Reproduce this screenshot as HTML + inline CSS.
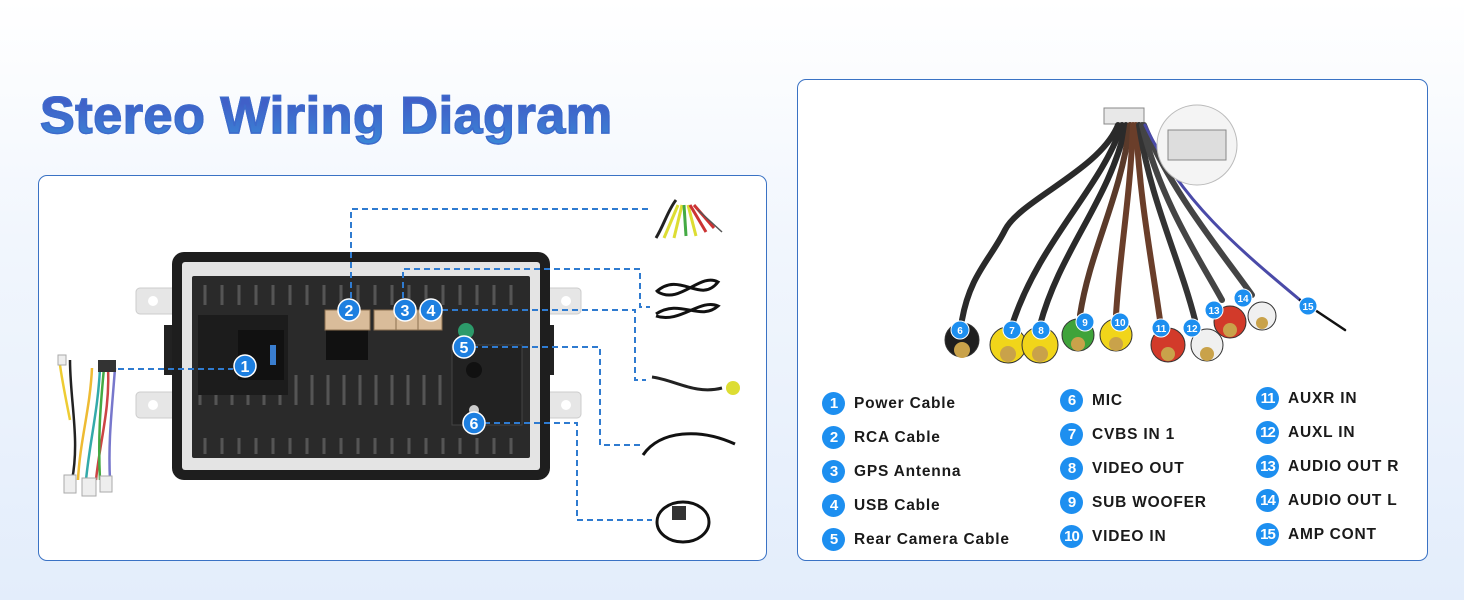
<!DOCTYPE html>
<html><head><meta charset="utf-8"><style>
html,body{margin:0;padding:0}
body{width:1464px;height:600px;overflow:hidden;position:relative;background:linear-gradient(180deg,#ffffff 0%,#f1f6fd 40%,#e3edfb 100%);font-family:"Liberation Sans",sans-serif}
.title{position:absolute;left:40px;top:86px;font-size:52px;font-weight:bold;letter-spacing:0.6px;color:#3d6fd2;background:linear-gradient(180deg,#4060c8 30%,#3a8ad8 100%);-webkit-background-clip:text;background-clip:text;-webkit-text-fill-color:transparent;-webkit-text-stroke:1.4px #3d6acb}
.panel{position:absolute;background:#fff;border:1.5px solid #3a72c4;border-radius:9px;box-sizing:border-box}
.lg{position:absolute;font-size:15.5px;font-weight:bold;color:#1a1a1a;letter-spacing:0.8px;white-space:nowrap;display:flex;align-items:center}
.lg b{display:inline-block;width:23px;height:23px;border-radius:50%;background:#1d8ff0;color:#fff;font-size:15px;text-align:center;line-height:23px;margin-right:9px;letter-spacing:-1px}
svg{position:absolute;left:0;top:0}
</style></head><body>
<div class="title">Stereo Wiring Diagram</div>
<div class="panel" style="left:38px;top:175px;width:729px;height:386px"></div>
<div class="panel" style="left:797px;top:79px;width:631px;height:482px"></div>

<svg width="1464" height="600" viewBox="0 0 1464 600">
 <g fill="#e6e6e6" stroke="#ccc">
  <rect x="136" y="288" width="45" height="26" rx="4"/><rect x="136" y="392" width="45" height="26" rx="4"/>
  <rect x="536" y="288" width="45" height="26" rx="4"/><rect x="536" y="392" width="45" height="26" rx="4"/>
 </g>
 <g fill="#fff"><circle cx="153" cy="301" r="5"/><circle cx="153" cy="405" r="5"/><circle cx="566" cy="301" r="5"/><circle cx="566" cy="405" r="5"/></g>
 <rect x="164" y="325" width="18" height="50" fill="#222"/><rect x="536" y="325" width="18" height="50" fill="#222"/>
 <rect x="172" y="252" width="378" height="228" rx="12" fill="#1e1e1e"/>
 <rect x="182" y="262" width="358" height="208" rx="3" fill="#e4e4e4"/>
 <rect x="192" y="276" width="338" height="182" rx="2" fill="#2a2a2a"/>
 <g stroke="#555" stroke-width="3">
  <path d="M205 285v20M222 285v20M239 285v20M256 285v20M273 285v20M290 285v20M307 285v20M324 285v20M341 285v20M358 285v20M375 285v20M392 285v20M409 285v20M426 285v20M443 285v20M460 285v20M477 285v20M494 285v20M511 285v20"/>
  <path d="M205 438v16M222 438v16M239 438v16M256 438v16M273 438v16M290 438v16M307 438v16M324 438v16M341 438v16M358 438v16M375 438v16M392 438v16M409 438v16M426 438v16M443 438v16M460 438v16M477 438v16M494 438v16M511 438v16"/>
  <path d="M200 375v30M216 375v30M232 375v30M248 375v30M264 375v30M280 375v30M296 375v30M312 375v30M328 375v30M344 375v30M360 375v30M376 375v30M392 375v30M408 375v30M424 375v30M440 375v30"/>
 </g>
 <rect x="198" y="315" width="90" height="80" fill="#1c1c1c"/>
 <rect x="238" y="330" width="46" height="50" fill="#111"/>
 <rect x="270" y="345" width="6" height="20" fill="#3a7ed0"/>
 <rect x="326" y="326" width="42" height="34" fill="#111"/>
 <rect x="452" y="345" width="70" height="80" fill="#222" stroke="#444"/>
 <g fill="#d9bc9a" stroke="#8a6f50"><rect x="325" y="310" width="45" height="20"/><rect x="374" y="310" width="22" height="20"/><rect x="396" y="310" width="22" height="20"/><rect x="418" y="310" width="24" height="20"/></g>
 <circle cx="466" cy="331" r="8" fill="#2c9a6a"/><circle cx="474" cy="370" r="8" fill="#111"/><circle cx="474" cy="410" r="5" fill="#ccc"/>
 <g stroke="#2f7bd0" stroke-width="2" stroke-dasharray="6,4" fill="none">
  <path d="M351 298V209H650"/>
  <path d="M403 298V269H640V307H650"/>
  <path d="M442 310H635V380H646"/>
  <path d="M472 347H600V445H640"/>
  <path d="M474 423H577V520H652"/>
  <path d="M118 369H233"/>
 </g>
 <g fill="#1d7fe0" stroke="#fff" stroke-width="1.5"><circle cx="245" cy="366" r="11"/><circle cx="349" cy="310" r="11"/><circle cx="405" cy="310" r="11"/><circle cx="431" cy="310" r="11"/><circle cx="464" cy="347" r="11"/><circle cx="474" cy="423" r="11"/></g>
 <g fill="#fff" font-family="Liberation Sans" font-weight="bold" font-size="16" text-anchor="middle"><text x="245" y="372">1</text><text x="349" y="316">2</text><text x="405" y="316">3</text><text x="431" y="316">4</text><text x="464" y="353">5</text><text x="474" y="429">6</text></g>
 <g stroke-width="2.5" fill="none">
  <path d="M70 360C70 400 80 440 72 480" stroke="#222"/><path d="M100 368C98 410 90 440 86 480" stroke="#3aa"/>
  <path d="M108 368C110 410 100 440 96 480" stroke="#c44"/><path d="M115 368C112 410 108 440 110 480" stroke="#77c"/>
  <path d="M92 368C90 410 80 440 78 480" stroke="#eb3"/><path d="M104 368C100 410 98 440 100 480" stroke="#4a4"/>
  <path d="M60 365C62 380 66 400 70 420" stroke="#ec3"/>
 </g>
 <rect x="98" y="360" width="18" height="12" fill="#333"/>
 <g fill="#eee" stroke="#aaa"><rect x="64" y="475" width="12" height="18"/><rect x="82" y="478" width="14" height="18"/><rect x="100" y="476" width="12" height="16"/><rect x="58" y="355" width="8" height="10"/></g>
 <g fill="none" stroke-width="3">
  <path d="M656 238C664 225 668 210 676 200" stroke="#222"/>
  <path d="M664 238L678 205" stroke="#dd3"/><path d="M674 238L682 205" stroke="#dd3"/>
  <path d="M686 236L684 205" stroke="#4a4"/><path d="M696 236L688 205" stroke="#dd3"/>
  <path d="M706 232L690 205" stroke="#c33"/><path d="M714 228L694 205" stroke="#c33"/>
  <path d="M722 232L698 210" stroke="#555" stroke-width="1.5"/>
  <path d="M656 292C680 270 700 305 718 282C700 272 680 305 658 292" stroke="#111"/>
  <path d="M656 314C680 298 700 322 718 306C700 298 680 324 656 316" stroke="#111"/>
  <path d="M652 377C675 380 695 395 722 388" stroke="#222"/>
  <path d="M643 455C660 430 700 428 735 444" stroke="#111"/>
  <ellipse cx="683" cy="522" rx="26" ry="20" stroke="#111"/>
 </g>
 <g fill="#dd3"><circle cx="733" cy="388" r="7"/></g>
 <rect x="672" y="506" width="14" height="14" fill="#333"/>
 <rect x="1104" y="108" width="40" height="16" fill="#e8e8e8" stroke="#888"/>
 <g fill="none" stroke-width="6" stroke-linecap="round">
  <path d="M1118 125C1100 170 1020 200 1005 230C990 260 970 275 962 320" stroke="#2a2a2a"/>
  <path d="M1122 125C1100 190 1040 240 1012 325" stroke="#2a2a2a"/>
  <path d="M1126 125C1110 200 1060 250 1040 325" stroke="#2a2a2a"/>
  <path d="M1130 125C1120 200 1090 250 1080 315" stroke="#5a3a2a"/>
  <path d="M1133 125C1130 200 1120 250 1116 315" stroke="#6a3e2a"/>
  <path d="M1136 125C1140 200 1150 250 1160 320" stroke="#6a3e2a"/>
  <path d="M1139 125C1150 200 1180 260 1195 320" stroke="#333"/>
  <path d="M1142 125C1160 200 1200 260 1222 300" stroke="#444"/>
  <path d="M1144 125C1170 190 1220 250 1252 295" stroke="#444"/>
  <path d="M1145 125C1180 200 1240 250 1300 300" stroke="#4a4aa8" stroke-width="3"/>
  <path d="M1300 300L1345 330" stroke="#111" stroke-width="2.5"/>
 </g>
 <circle cx="1197" cy="145" r="40" fill="#f4f4f4" stroke="#bbb"/>
 <rect x="1168" y="130" width="58" height="30" fill="#ddd" stroke="#888"/>
 <g stroke="#333" stroke-width="1">
  <circle cx="962" cy="340" r="17" fill="#1e1e1e"/><circle cx="1008" cy="345" r="18" fill="#f1d51a"/><circle cx="1040" cy="345" r="18" fill="#f1d51a"/>
  <circle cx="1078" cy="335" r="16" fill="#3fa33a"/><circle cx="1116" cy="335" r="16" fill="#f1d51a"/><circle cx="1168" cy="345" r="17" fill="#d23a2a"/>
  <circle cx="1207" cy="345" r="16" fill="#f0f0f0"/><circle cx="1230" cy="322" r="16" fill="#d23a2a"/><circle cx="1262" cy="316" r="14" fill="#f0f0f0"/>
 </g>
 <g fill="#c9a24a"><circle cx="962" cy="350" r="8"/><circle cx="1008" cy="354" r="8"/><circle cx="1040" cy="354" r="8"/><circle cx="1078" cy="344" r="7"/><circle cx="1116" cy="344" r="7"/><circle cx="1168" cy="354" r="7"/><circle cx="1207" cy="354" r="7"/><circle cx="1230" cy="330" r="7"/><circle cx="1262" cy="323" r="6"/></g>
 <g fill="#1d8ff0" stroke="#fff"><circle cx="960" cy="330" r="9"/><circle cx="1012" cy="330" r="9"/><circle cx="1041" cy="330" r="9"/><circle cx="1085" cy="322" r="9"/><circle cx="1120" cy="322" r="9"/><circle cx="1161" cy="328" r="9"/><circle cx="1192" cy="328" r="9"/><circle cx="1214" cy="310" r="9"/><circle cx="1243" cy="298" r="9"/><circle cx="1308" cy="306" r="9"/></g>
 <g fill="#fff" font-family="Liberation Sans" font-weight="bold" font-size="10" text-anchor="middle"><text x="960" y="334">6</text><text x="1012" y="334">7</text><text x="1041" y="334">8</text><text x="1085" y="326">9</text><text x="1120" y="326">10</text><text x="1161" y="332">11</text><text x="1192" y="332">12</text><text x="1214" y="314">13</text><text x="1243" y="302">14</text><text x="1308" y="310">15</text></g>
</svg>

<div class="lg" style="left:822px;top:392px"><b>1</b>Power Cable</div>
<div class="lg" style="left:822px;top:426px"><b>2</b>RCA Cable</div>
<div class="lg" style="left:822px;top:460px"><b>3</b>GPS Antenna</div>
<div class="lg" style="left:822px;top:494px"><b>4</b>USB Cable</div>
<div class="lg" style="left:822px;top:528px"><b>5</b>Rear Camera Cable</div>
<div class="lg" style="left:1060px;top:389px"><b>6</b>MIC</div>
<div class="lg" style="left:1060px;top:423px"><b>7</b>CVBS IN 1</div>
<div class="lg" style="left:1060px;top:457px"><b>8</b>VIDEO OUT</div>
<div class="lg" style="left:1060px;top:491px"><b>9</b>SUB WOOFER</div>
<div class="lg" style="left:1060px;top:525px"><b>10</b>VIDEO IN</div>
<div class="lg" style="left:1256px;top:387px"><b>11</b>AUXR IN</div>
<div class="lg" style="left:1256px;top:421px"><b>12</b>AUXL IN</div>
<div class="lg" style="left:1256px;top:455px"><b>13</b>AUDIO OUT R</div>
<div class="lg" style="left:1256px;top:489px"><b>14</b>AUDIO OUT L</div>
<div class="lg" style="left:1256px;top:523px"><b>15</b>AMP CONT</div>
</body></html>
